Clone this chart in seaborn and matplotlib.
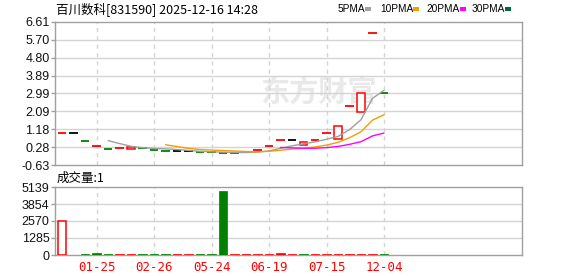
import matplotlib
matplotlib.use("Agg")
import matplotlib.pyplot as plt
from matplotlib.patches import Rectangle
import numpy as np
import pandas as pd
import seaborn as sns

# ---------------- data ----------------
opens  = [0.98, 0.98, 0.57, 0.33, 0.17, 0.23, 0.17, 0.23, 0.13, 0.06,
          0.06, 0.06, 0.01, 0.01, -0.04, 0.00, 0.02, 0.11, 0.33, 0.62,
          0.62, 0.37, 0.62, 0.98, 0.67, 2.34, 2.04, 6.04, 3.02]
closes = [0.98, 0.98, 0.57, 0.33, 0.17, 0.23, 0.28, 0.23, 0.13, 0.06,
          0.06, 0.06, 0.01, 0.01, -0.04, 0.00, 0.02, 0.11, 0.33, 0.62,
          0.62, 0.52, 0.62, 0.98, 1.34, 2.34, 3.02, 6.04, 3.02]
candle_dir = ["r", "k", "g", "r", "g", "r", "r", "g", "g", "g",
              "k", "k", "g", "g", "g", "r", "r", "r", "r", "r",
              "k", "r", "r", "r", "r", "r", "r", "r", "g"]
volumes = [2560, 0, 75, 150, 75, 75, 75, 75, 75, 75,
           75, 75, 75, 75, 4800, 75, 75, 75, 75, 150,
           75, 75, 75, 75, 75, 75, 75, 75, 75]
vol_dir = ["r", "k", "g", "g", "g", "r", "r", "g", "g", "g",
           "r", "r", "g", "g", "g", "r", "r", "r", "r", "r",
           "r", "g", "r", "r", "r", "r", "r", "r", "g"]
date_ticks = [3, 8, 13, 18, 23, 28]
date_labels = ["01-25", "02-26", "05-24", "06-19", "07-15", "12-04"]
price_ticks = [-0.63, 0.28, 1.18, 2.09, 2.99, 3.89, 4.80, 5.70, 6.61]
vol_ticks = [0, 1285, 2570, 3854, 5139]
ma_periods = [5, 10, 20, 30]
ma_names = ["5PMA", "10PMA", "20PMA", "30PMA"]
title = "百川数科[831590] 2025-12-16 14:28"
vol_title = "成交量:1"

# ---------------- style ----------------
sns.set_theme(style="white")
plt.rcParams["font.family"] = ["Liberation Sans", "Noto Sans CJK SC", "DejaVu Sans"]
CJK = ["Noto Sans CJK SC", "DejaVu Sans"]

RED, GREEN, BLACK = "#ff0000", "#008000", "#000000"
cmap = {"r": RED, "g": GREEN, "k": BLACK}
ma_colors = ["#a0a0a0", "#f0a000", "#ff00ff", "#006a32"]
FRAME = "#a0a0a0"
GRID = "#d4d4d4"

W, H = 578, 276
fig = plt.figure(figsize=(W / 100, H / 100), dpi=100)
fig.patch.set_facecolor("white")

def fx(px):
    return px / W

def fy(py):
    return 1 - py / H

L, R = 55, 522
ax = fig.add_axes([fx(L), fy(165), fx(R - L), fy(22) - fy(165)])
axv = fig.add_axes([fx(L), fy(255), fx(R - L), fy(187) - fy(255)])

n = len(closes)
idx = np.arange(n)
df = pd.DataFrame({"i": idx, "open": opens, "close": closes,
                   "dir": candle_dir, "vol": volumes, "vdir": vol_dir})

XMIN, XMAX = -0.61, 40.0

for a in (ax, axv):
    a.set_facecolor("white")
    a.set_xlim(XMIN, XMAX)
    for s in a.spines.values():
        s.set_color(FRAME)
        s.set_linewidth(1.0)
    a.tick_params(axis="y", which="both", left=True, length=3, width=1,
                  color=FRAME, labelsize=9, pad=1, labelcolor="#111111")
    a.tick_params(axis="x", length=0)

# ---- watermark (behind everything in the price panel) ----
ax.text(fx(318), fy(92), "东方财富", transform=fig.transFigure, ha="center",
        va="center", fontsize=21, fontweight="bold", color="#e9e9e9",
        family=CJK, zorder=0.5)

# ---- price panel ----
ax.set_ylim(price_ticks[0], price_ticks[-1])
ax.set_yticks(price_ticks)
ax.set_yticklabels([f"{t:.2f}" for t in price_ticks])
ax.set_xticks([])
for t in price_ticks[1:-1]:
    ax.axhline(t, color=GRID, lw=1, zorder=1)
for t in date_ticks:
    ax.axvline(t, color=GRID, lw=1, ls=(0, (3, 3)), zorder=1)

hw = 0.36
for _, row in df.iterrows():
    c = cmap[row["dir"]]
    if abs(row["close"] - row["open"]) < 1e-9:
        ax.hlines(row["close"], row["i"] - hw, row["i"] + hw, color=c, lw=1.3, zorder=3)
    else:
        lo = min(row["open"], row["close"])
        ax.bar(row["i"], abs(row["close"] - row["open"]), bottom=lo, width=0.62,
               facecolor="white", edgecolor=c, lw=1.1, zorder=3)

for p, name, col in zip(ma_periods, ma_names, ma_colors):
    ma = df["close"].rolling(p).mean()
    d = pd.DataFrame({"i": idx, "ma": ma}).dropna()
    if len(d):
        sns.lineplot(data=d, x="i", y="ma", ax=ax, color=col, lw=1.0, zorder=4,
                     legend=False)
ax.set_xlabel("")
ax.set_ylabel("")
ax.set_xlim(XMIN, XMAX)

# ---- volume panel ----
axv.set_ylim(vol_ticks[0], vol_ticks[-1])
axv.set_yticks(vol_ticks)
axv.set_yticklabels([str(t) for t in vol_ticks])
for t in vol_ticks[1:-1]:
    axv.axhline(t, color=GRID, lw=1, zorder=1)
for t in date_ticks:
    axv.axvline(t, color=GRID, lw=1, ls=(0, (3, 3)), zorder=1)
for _, row in df.iterrows():
    if row["vol"] <= 0:
        continue
    c = cmap[row["vdir"]]
    if row["vdir"] == "r" and row["vol"] > 500:
        axv.bar(row["i"], row["vol"], width=0.62, facecolor="white",
                edgecolor=c, lw=1.1, zorder=3)
    else:
        axv.bar(row["i"], row["vol"], width=0.7, facecolor=c, edgecolor=c,
                lw=0.5, zorder=3)
axv.set_xticks(date_ticks)
axv.set_xticklabels(date_labels, color=RED, fontsize=9, family=["DejaVu Sans Mono"])
axv.tick_params(axis="x", pad=4)

# ---- texts ----
fig.text(fx(56), fy(9), title, fontsize=9, family=CJK, va="center", ha="left",
         color="#000000")
fig.text(fx(57), fy(178), vol_title, fontsize=9, family=CJK, va="center", ha="left",
         color="#000000")
leg_x = [338, 380, 426, 472]
sq_x = [365, 413, 460, 505]
for name, col, lx, sx in zip(ma_names, ma_colors, leg_x, sq_x):
    fig.text(fx(lx), fy(9), name, fontsize=7.3, family=["Liberation Sans"], va="center",
             ha="left", color="#000000")
    fig.add_artist(Rectangle((fx(sx), fy(11)), fx(6), fy(7) - fy(11),
                             transform=fig.transFigure, facecolor=col,
                             edgecolor="none"))

fig.savefig("out.png", dpi=100, facecolor="white")
